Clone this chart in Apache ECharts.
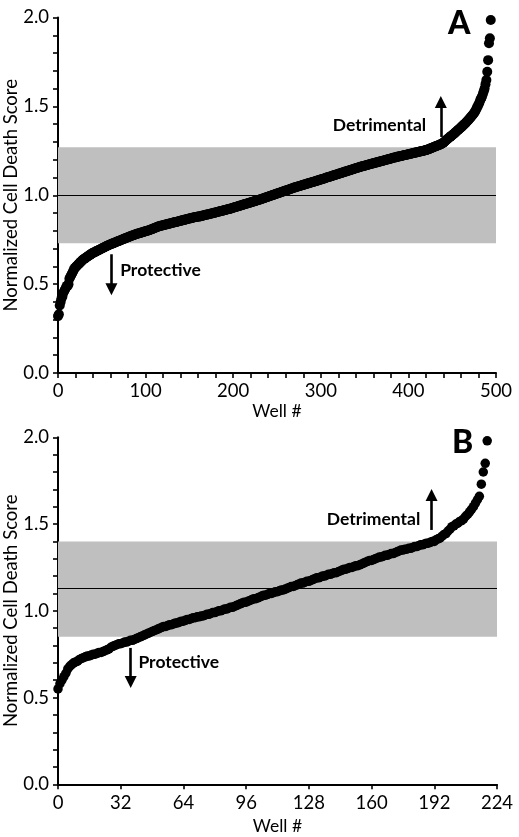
<!DOCTYPE html>
<html>
<head>
<meta charset="utf-8">
<script src="https://cdn.jsdelivr.net/npm/echarts@6/dist/echarts.min.js"></script>
<style>
  html, body { margin: 0; padding: 0; background: #fff; }
  #chart { width: 519px; height: 837px; }
</style>
</head>
<body>
<div id="chart"></div>
<script>
// ---- Panel A: sorted normalized cell death scores, one per well (wells 0..494) ----
const scoresA = [
  0.32, 0.33, 0.38, 0.40, 0.42, 0.43, 0.45, 0.46, 0.47, 0.48,
  0.49, 0.49, 0.50, 0.53, 0.54, 0.55, 0.56, 0.57, 0.58, 0.59,
  0.595, 0.60, 0.605, 0.61, 0.615, 0.62, 0.625, 0.63, 0.635, 0.64,
  0.643, 0.645, 0.65, 0.653, 0.656, 0.66, 0.663, 0.666, 0.67, 0.673,
  0.676, 0.678, 0.68, 0.683, 0.686, 0.688, 0.69, 0.693, 0.695, 0.698,
  0.70, 0.703, 0.705, 0.708, 0.71, 0.713, 0.715, 0.718, 0.72, 0.722,
  0.724, 0.726, 0.728, 0.73, 0.732, 0.734, 0.736, 0.738, 0.74, 0.742,
  0.744, 0.746, 0.748, 0.75, 0.752, 0.754, 0.756, 0.758, 0.76, 0.762,
  0.764, 0.766, 0.768, 0.77, 0.772, 0.774, 0.775, 0.777, 0.779, 0.781,
  0.783, 0.784, 0.785, 0.787, 0.788, 0.79, 0.791, 0.793, 0.794, 0.796,
  0.797, 0.799, 0.80, 0.802, 0.803, 0.805, 0.807, 0.809, 0.811, 0.813,
  0.815, 0.817, 0.819, 0.821, 0.823, 0.825, 0.826, 0.828, 0.829, 0.830,
  0.831, 0.833, 0.834, 0.835, 0.836, 0.838, 0.839, 0.840, 0.841, 0.843,
  0.844, 0.845, 0.846, 0.848, 0.849, 0.850, 0.851, 0.853, 0.854, 0.855,
  0.856, 0.858, 0.859, 0.860, 0.861, 0.863, 0.864, 0.865, 0.866, 0.868,
  0.869, 0.870, 0.871, 0.873, 0.874, 0.875, 0.876, 0.877, 0.878, 0.879,
  0.880, 0.880, 0.881, 0.882, 0.884, 0.885, 0.886, 0.888, 0.889, 0.890,
  0.891, 0.892, 0.893, 0.895, 0.896, 0.897, 0.898, 0.900, 0.901, 0.902,
  0.903, 0.905, 0.906, 0.907, 0.908, 0.910, 0.911, 0.912, 0.913, 0.915,
  0.916, 0.917, 0.918, 0.920, 0.921, 0.922, 0.923, 0.925, 0.926, 0.928,
  0.930, 0.931, 0.933, 0.934, 0.936, 0.937, 0.939, 0.940, 0.942, 0.943,
  0.945, 0.946, 0.948, 0.949, 0.951, 0.952, 0.954, 0.955, 0.957, 0.958,
  0.960, 0.961, 0.963, 0.964, 0.966, 0.967, 0.969, 0.970, 0.972, 0.973,
  0.975, 0.977, 0.978, 0.980, 0.982, 0.983, 0.985, 0.987, 0.989, 0.990,
  0.992, 0.994, 0.996, 0.997, 0.999, 1.001, 1.002, 1.004, 1.006, 1.008,
  1.009, 1.011, 1.013, 1.014, 1.016, 1.018, 1.020, 1.021, 1.023, 1.025,
  1.026, 1.028, 1.030, 1.031, 1.033, 1.035, 1.037, 1.038, 1.040, 1.042,
  1.043, 1.045, 1.046, 1.048, 1.049, 1.051, 1.052, 1.054, 1.055, 1.057,
  1.058, 1.060, 1.061, 1.063, 1.064, 1.066, 1.067, 1.069, 1.070, 1.072,
  1.073, 1.075, 1.076, 1.078, 1.079, 1.081, 1.082, 1.084, 1.085, 1.087,
  1.088, 1.090, 1.091, 1.093, 1.094, 1.096, 1.098, 1.100, 1.101, 1.103,
  1.104, 1.106, 1.107, 1.109, 1.111, 1.112, 1.114, 1.115, 1.117, 1.118,
  1.120, 1.122, 1.123, 1.125, 1.126, 1.128, 1.129, 1.131, 1.133, 1.134,
  1.136, 1.137, 1.139, 1.140, 1.142, 1.144, 1.145, 1.147, 1.148, 1.150,
  1.152, 1.153, 1.155, 1.156, 1.158, 1.160, 1.161, 1.162, 1.164, 1.165,
  1.166, 1.168, 1.169, 1.170, 1.172, 1.173, 1.174, 1.176, 1.177, 1.178,
  1.180, 1.181, 1.182, 1.184, 1.185, 1.186, 1.188, 1.189, 1.190, 1.192,
  1.193, 1.194, 1.196, 1.197, 1.198, 1.200, 1.201, 1.202, 1.204, 1.205,
  1.206, 1.208, 1.210, 1.211, 1.212, 1.213, 1.214, 1.216, 1.217, 1.218,
  1.219, 1.220, 1.221, 1.222, 1.224, 1.225, 1.226, 1.227, 1.228, 1.229,
  1.230, 1.232, 1.233, 1.234, 1.235, 1.236, 1.237, 1.239, 1.240, 1.241,
  1.242, 1.243, 1.244, 1.246, 1.247, 1.248, 1.249, 1.250, 1.251, 1.253,
  1.254, 1.255, 1.257, 1.259, 1.261, 1.263, 1.265, 1.267, 1.269, 1.271,
  1.273, 1.275, 1.277, 1.279, 1.281, 1.283, 1.285, 1.287, 1.290, 1.293,
  1.296, 1.300, 1.305, 1.310, 1.314, 1.318, 1.322, 1.326, 1.330, 1.334,
  1.338, 1.342, 1.346, 1.350, 1.355, 1.360, 1.364, 1.368, 1.373, 1.377,
  1.382, 1.386, 1.391, 1.396, 1.400, 1.405, 1.410, 1.416, 1.421, 1.427,
  1.432, 1.438, 1.444, 1.450, 1.456, 1.463, 1.470, 1.480, 1.490, 1.500,
  1.510, 1.520, 1.535, 1.545, 1.555, 1.570, 1.585, 1.600, 1.625, 1.648,
  1.695, 1.76, 1.855, 1.883, 1.986
];

// ---- Panel B: sorted normalized cell death scores (wells 0..219) ----
const scoresB = [
  0.55, 0.58, 0.60, 0.62, 0.64, 0.665, 0.68, 0.69, 0.70, 0.705,
  0.71, 0.72, 0.725, 0.73, 0.735, 0.74, 0.74, 0.745, 0.75, 0.75,
  0.755, 0.76, 0.76, 0.765, 0.77, 0.775, 0.78, 0.79, 0.795, 0.80,
  0.805, 0.81, 0.81, 0.815, 0.82, 0.82, 0.825, 0.83, 0.83, 0.835,
  0.84, 0.845, 0.85, 0.855, 0.86, 0.865, 0.87, 0.875, 0.88, 0.885,
  0.89, 0.895, 0.90, 0.905, 0.91, 0.91, 0.915, 0.92, 0.92, 0.925,
  0.93, 0.93, 0.935, 0.94, 0.94, 0.945, 0.95, 0.95, 0.955, 0.96,
  0.96, 0.965, 0.965, 0.97, 0.97, 0.975, 0.98, 0.98, 0.985, 0.99,
  0.99, 0.995, 1.00, 1.00, 1.005, 1.01, 1.01, 1.015, 1.02, 1.02,
  1.025, 1.03, 1.035, 1.04, 1.045, 1.05, 1.05, 1.055, 1.06, 1.065,
  1.07, 1.07, 1.075, 1.08, 1.085, 1.09, 1.09, 1.095, 1.10, 1.10,
  1.105, 1.11, 1.11, 1.115, 1.12, 1.12, 1.125, 1.13, 1.135, 1.14,
  1.14, 1.145, 1.15, 1.155, 1.16, 1.16, 1.165, 1.17, 1.17, 1.175,
  1.18, 1.185, 1.19, 1.19, 1.195, 1.20, 1.20, 1.205, 1.21, 1.21,
  1.215, 1.22, 1.22, 1.225, 1.23, 1.235, 1.24, 1.24, 1.245, 1.25,
  1.25, 1.255, 1.26, 1.26, 1.265, 1.27, 1.275, 1.28, 1.285, 1.29,
  1.29, 1.295, 1.30, 1.305, 1.31, 1.31, 1.315, 1.32, 1.32, 1.325,
  1.33, 1.33, 1.335, 1.34, 1.345, 1.35, 1.35, 1.355, 1.355, 1.36,
  1.36, 1.365, 1.37, 1.37, 1.375, 1.38, 1.38, 1.385, 1.39, 1.39,
  1.395, 1.40, 1.40, 1.41, 1.415, 1.42, 1.43, 1.44, 1.445, 1.46,
  1.47, 1.485, 1.49, 1.50, 1.505, 1.515, 1.52, 1.53, 1.545, 1.555,
  1.57, 1.585, 1.60, 1.62, 1.64, 1.66, 1.73, 1.80, 1.85, 1.98
];

// Reference band (mean +/- range) and mean line for each panel
const bandA = [0.73, 1.27];
const meanA = 1.0;
const bandB = [0.85, 1.40];
const meanB = 1.125;

// Axis ticks
const yTicks = [0.0, 0.5, 1.0, 1.5, 2.0];
const xTicksA = [0, 100, 200, 300, 400, 500];
const xTicksB = [0, 32, 64, 96, 128, 160, 192, 224];

const FONT = 'Lato';
const chart = echarts.init(document.getElementById('chart'), null, { renderer: 'canvas' });

function xAxisCfg(idx, ticks, minorSplit, nameGap) {
  return {
    type: 'value', gridIndex: idx,
    min: ticks[0], max: ticks[ticks.length - 1], interval: ticks[1] - ticks[0],
    name: 'Well #', nameLocation: 'middle', nameGap: nameGap,
    nameTextStyle: { fontFamily: FONT, fontSize: 17.5, color: '#000' },
    axisLine: { show: true, onZero: false, lineStyle: { color: '#000', width: 2 } },
    axisTick: { show: true, inside: false, length: 5, lineStyle: { color: '#000', width: 1.6 } },
    minorTick: { show: minorSplit > 0, splitNumber: minorSplit || 5, length: 5, lineStyle: { color: '#000', width: 1.6 } },
    axisLabel: { fontFamily: FONT, fontSize: 18.5, color: '#000', margin: 9 },
    splitLine: { show: false }
  };
}
function yAxisCfg(idx) {
  return {
    type: 'value', gridIndex: idx,
    min: yTicks[0], max: yTicks[yTicks.length - 1], interval: yTicks[1] - yTicks[0],
    name: 'Normalized Cell Death Score', nameLocation: 'middle', nameGap: 47,
    nameMoveOverlap: false,
    nameTextStyle: { fontFamily: FONT, fontSize: 18.5, color: '#000', verticalAlign: 'middle' },
    axisLine: { show: true, onZero: false, lineStyle: { color: '#000', width: 2 } },
    axisTick: { show: true, inside: false, length: 5, lineStyle: { color: '#000', width: 1.6 } },
    minorTick: { show: true, splitNumber: 5, length: 5, lineStyle: { color: '#000', width: 1.6 } },
    axisLabel: { fontFamily: FONT, fontSize: 18.5, color: '#000', margin: 9, formatter: v => v.toFixed(1) },
    splitLine: { show: false }
  };
}

function arrow(x, y0, y1) {
  return [{ coord: [x, y0] }, { coord: [x, y1] }];
}
function textMark(name, x, y, size, weight) {
  return {
    name: name, coord: [x, y], symbol: 'rect', symbolSize: 0,
    label: { show: true, position: 'inside', formatter: '{b}', fontFamily: FONT,
      fontWeight: weight || 'bold', fontSize: size, color: '#000' }
  };
}

function bandSeries(idx, band, mean) {
  return {
    type: 'line', xAxisIndex: idx, yAxisIndex: idx, data: [], z: 1, silent: true,
    markArea: {
      silent: true, itemStyle: { color: '#bfbfbf' },
      data: [[{ yAxis: band[0] }, { yAxis: band[1] }]]
    },
    markLine: {
      silent: true, symbol: 'none', animation: false,
      label: { show: false },
      lineStyle: { color: '#000', width: 1, type: 'solid' },
      emphasis: { disabled: true },
      data: [{ yAxis: mean }]
    }
  };
}
function arrowSeries(idx, arrows, texts) {
  return {
    type: 'line', xAxisIndex: idx, yAxisIndex: idx, data: [], z: 5, silent: true,
    markLine: {
      silent: true, symbol: ['none', 'triangle'], symbolSize: 12, animation: false,
      label: { show: false },
      lineStyle: { color: '#000', width: 2.6, type: 'solid' },
      itemStyle: { color: '#000' },
      emphasis: { disabled: true },
      data: arrows
    },
    markPoint: { silent: true, animation: false, data: texts }
  };
}

const option = {
  animation: false,
  backgroundColor: '#fff',
  textStyle: { fontFamily: FONT },
  grid: [
    { left: 58, top: 17.5, width: 438, height: 355.5, containLabel: false, outerBoundsMode: 'none' },
    { left: 58, top: 437.3, width: 439, height: 347, containLabel: false, outerBoundsMode: 'none' }
  ],
  xAxis: [xAxisCfg(0, xTicksA, 5, 24), xAxisCfg(1, xTicksB, 0, 33)],
  yAxis: [yAxisCfg(0), yAxisCfg(1)],
  series: [
    bandSeries(0, bandA, meanA),
    bandSeries(1, bandB, meanB),
    {
      type: 'scatter', xAxisIndex: 0, yAxisIndex: 0, z: 3,
      symbol: 'circle', symbolSize: 10,
      itemStyle: { color: '#000', opacity: 1 },
      data: scoresA.map((v, i) => [i, v])
    },
    {
      type: 'scatter', xAxisIndex: 1, yAxisIndex: 1, z: 3,
      symbol: 'circle', symbolSize: 9.5,
      itemStyle: { color: '#000', opacity: 1 },
      data: scoresB.map((v, i) => [i, v])
    },
    arrowSeries(0,
      [arrow(437, 1.328, 1.525), arrow(61, 0.668, 0.471)],
      [textMark('Detrimental', 367, 1.395, 17.5), textMark('Protective', 117, 0.58, 17.5),
       textMark('A', 458, 1.963, 32, 900)]),
    arrowSeries(1,
      [arrow(190.6, 1.466, 1.667), arrow(37.1, 0.786, 0.59)],
      [textMark('Detrimental', 161, 1.529, 17.5), textMark('Protective', 61.6, 0.705, 17.5),
       textMark('B', 206.5, 1.970, 32, 900)])
  ]
};
chart.setOption(option);
</script>
</body>
</html>
